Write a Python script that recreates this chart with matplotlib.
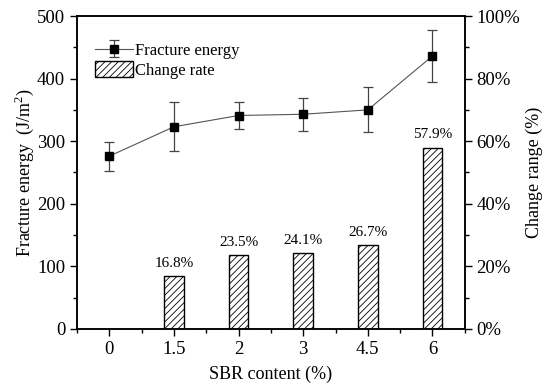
import numpy as np
import matplotlib
matplotlib.use("Agg")
import matplotlib.pyplot as plt
from matplotlib.ticker import MultipleLocator, FuncFormatter

plt.rcParams["font.family"] = "Liberation Serif"
plt.rcParams["mathtext.fontset"] = "custom"
plt.rcParams["mathtext.rm"] = "Liberation Serif"
plt.rcParams["hatch.linewidth"] = 0.6
plt.rcParams["hatch.color"] = "#555555"

# datos
sbr = ["0", "1.5", "2", "3", "4.5", "6"]
energia = [276, 323, 341, 343, 350, 436]
error = [23, 39, 21, 26, 36, 41]
cambio = [np.nan, 16.8, 23.5, 24.1, 26.7, 57.9]

x = np.arange(len(sbr))

fig = plt.figure(figsize=(5.5, 3.91), dpi=100)
ax = fig.add_axes([0.14, 0.159, 0.705, 0.8])
ax2 = ax.twinx()

# barras de cambio (eje derecho)
xb = x[1:]
ax2.bar(xb, cambio[1:], width=0.3, facecolor="white", edgecolor="black",
        linewidth=1.0, hatch="/////", label="Change rate")
for xi, v in zip(xb, cambio[1:]):
    ax2.text(xi, v + 2, f"{v:.1f}%", ha="center", va="bottom", fontsize=11)

# linea de energia (eje izquierdo)
ax.set_zorder(ax2.get_zorder() + 1)
ax.patch.set_visible(False)
ax.errorbar(x, energia, yerr=error, color="#555555", lw=0.8, marker="s",
            markersize=6, mfc="black", mec="black", ecolor="#444444",
            elinewidth=0.9, capsize=3.5, capthick=0.9, label="Fracture energy")

ax.set_xlim(-0.5, 5.5)
ax.set_ylim(0, 500)
ax2.set_ylim(0, 100)
ax.set_xticks(x)
ax.set_xticklabels(sbr)
ax.xaxis.set_minor_locator(MultipleLocator(0.5))
ax.yaxis.set_major_locator(MultipleLocator(100))
ax.yaxis.set_minor_locator(MultipleLocator(50))
ax2.yaxis.set_major_locator(MultipleLocator(20))
ax2.yaxis.set_minor_locator(MultipleLocator(10))
ax2.yaxis.set_major_formatter(FuncFormatter(lambda v, p: f"{v:.0f}%"))

for a in (ax, ax2):
    a.tick_params(which="major", length=5, width=1.0, labelsize=13.5, direction="out")
    a.tick_params(which="minor", length=3, width=1.0, direction="out")
    for s in a.spines.values():
        s.set_linewidth(1.1)

ax.set_xlabel("SBR content (%)", fontsize=13, labelpad=6)
ax.set_ylabel("Fracture energy  (J/m$^{2}$)", fontsize=13, labelpad=1)
ax2.set_ylabel("Change range (%)", fontsize=13, labelpad=4)

h1, l1 = ax.get_legend_handles_labels()
h2, l2 = ax2.get_legend_handles_labels()
ax.legend(h1 + h2, l1 + l2, loc="upper left", bbox_to_anchor=(0.02, 0.95),
          frameon=False, fontsize=12, handlelength=2.3, handleheight=1.1,
          handletextpad=0.1, labelspacing=0.1, borderaxespad=0.2)

fig.savefig("out.png", dpi=100)
